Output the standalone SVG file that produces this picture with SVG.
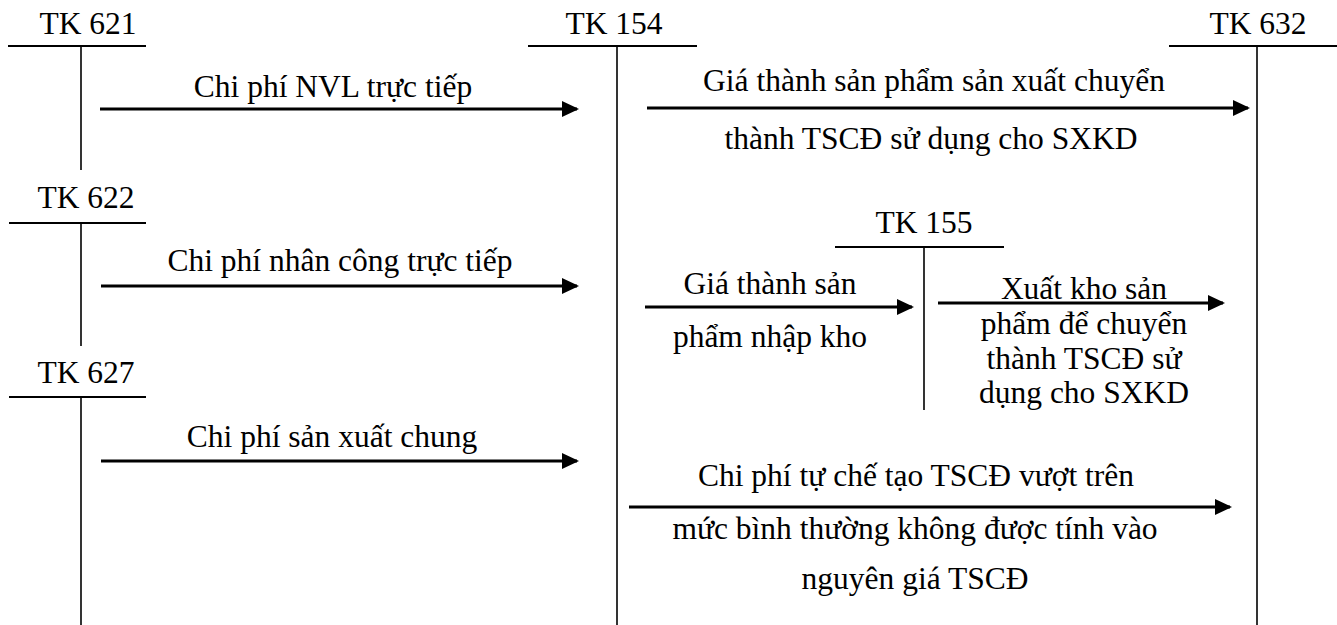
<svg xmlns="http://www.w3.org/2000/svg" width="1337" height="625" viewBox="0 0 1337 625">
<style>
text{font-family:"Liberation Serif","Times New Roman",serif;font-size:31.5px;fill:#000;text-anchor:middle}
.hd{stroke:#000;stroke-width:2}
.vt{stroke:#000;stroke-width:1.6}
.ar{stroke:#000;stroke-width:3;fill:none;marker-end:url(#ah)}
</style>
<defs>
<marker id="ah" markerUnits="userSpaceOnUse" markerWidth="17" markerHeight="16" refX="15" refY="8" orient="auto" viewBox="0 0 17 16">
<path d="M0,0 L17,8 L0,16 Z" fill="#000"/>
</marker>
</defs>
<rect width="1337" height="625" fill="#fff"/>
<g id="tk621">
<text x="88" y="34">TK 621</text>
<line class="hd" x1="8" y1="46" x2="146" y2="46"/>
<line class="vt" x1="81" y1="46" x2="81" y2="170"/>
</g>
<g id="tk622">
<text x="86" y="208">TK 622</text>
<line class="hd" x1="9" y1="223" x2="146" y2="223"/>
<line class="vt" x1="81" y1="223" x2="81" y2="346"/>
</g>
<g id="tk627">
<text x="86" y="383">TK 627</text>
<line class="hd" x1="9" y1="397" x2="146" y2="397"/>
<line class="vt" x1="81" y1="397" x2="81" y2="625"/>
</g>
<g id="tk154">
<text x="614" y="34">TK 154</text>
<line class="hd" x1="528" y1="46" x2="697" y2="46"/>
<line class="vt" x1="617" y1="46" x2="617" y2="625"/>
</g>
<g id="tk632">
<text x="1258" y="34">TK 632</text>
<line class="hd" x1="1169" y1="46" x2="1337" y2="46"/>
<line class="vt" x1="1257" y1="46" x2="1257" y2="625"/>
</g>
<g id="tk155">
<text x="924" y="233">TK 155</text>
<line class="hd" x1="835" y1="247" x2="1004" y2="247"/>
<line class="vt" x1="924" y1="247" x2="924" y2="410"/>
</g>
<g id="connectors">
<line class="ar" x1="100" y1="109" x2="577" y2="109"/>
<line class="ar" x1="101" y1="286" x2="577" y2="286"/>
<line class="ar" x1="101" y1="461" x2="577" y2="461"/>
<line class="ar" x1="647" y1="108" x2="1248" y2="108"/>
<line class="ar" x1="645" y1="307" x2="912" y2="307"/>
<line class="ar" x1="938" y1="303" x2="1223" y2="303"/>
<line class="ar" x1="629" y1="507" x2="1230" y2="507"/>
</g>
<g id="labels">
<text x="333" y="97">Chi phí NVL trực tiếp</text>
<text x="340" y="271">Chi phí nhân công trực tiếp</text>
<text x="332" y="447">Chi phí sản xuất chung</text>
<text x="934" y="91">Giá thành sản phẩm sản xuất chuyển</text>
<text x="931" y="149">thành TSCĐ sử dụng cho SXKD</text>
<text x="770" y="294">Giá thành sản</text>
<text x="770" y="347">phẩm nhập kho</text>
<text x="1084" y="299">Xuất kho sản</text>
<text x="1084" y="334">phẩm để chuyển</text>
<text x="1084" y="369">thành TSCĐ sử</text>
<text x="1084" y="403">dụng cho SXKD</text>
<text x="916" y="486">Chi phí tự chế tạo TSCĐ vượt trên</text>
<text x="915" y="539">mức bình thường không được tính vào</text>
<text x="915" y="589">nguyên giá TSCĐ</text>
</g>
</svg>
